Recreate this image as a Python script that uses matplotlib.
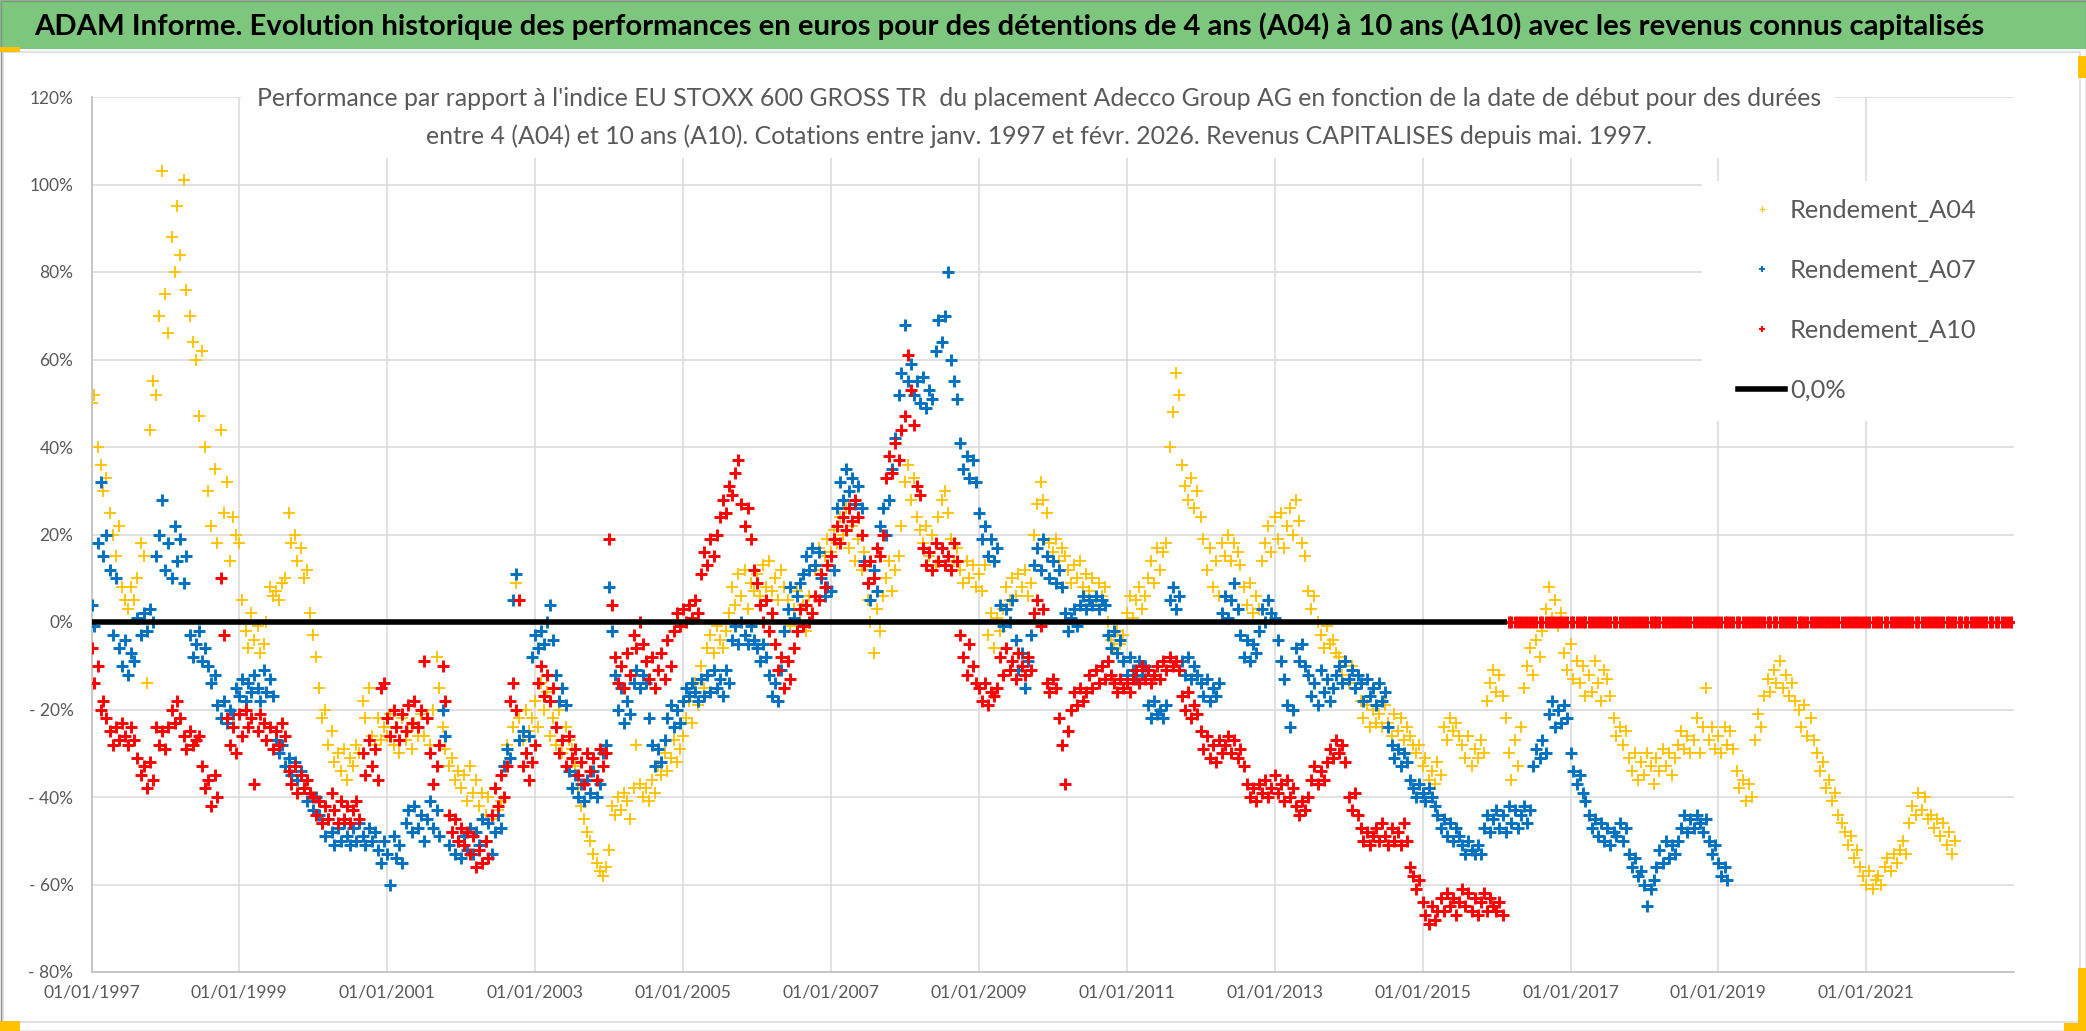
import matplotlib
matplotlib.use('Agg')
import matplotlib.pyplot as plt
import matplotlib.dates as mdates
from matplotlib.patches import Rectangle
from matplotlib.lines import Line2D
import pandas as pd

plt.rcParams['font.family'] = ['Lato', 'DejaVu Sans']

W, H = 2086, 1031

title = ("ADAM Informe. Evolution historique des performances en euros pour des détentions "
         "de 4 ans (A04) à 10 ans (A10) avec les revenus connus capitalisés")
subtitle_1 = ("Performance par rapport à l'indice EU STOXX 600 GROSS TR  du placement Adecco Group AG "
              "en fonction de la date de début pour des durées")
subtitle_2 = ("entre 4 (A04) et 10 ans (A10). Cotations entre janv. 1997 et févr. 2026. "
              "Revenus CAPITALISES depuis mai. 1997.")
labels = ['Rendement_A04', 'Rendement_A07', 'Rendement_A10', '0,0%']

# performance (%) by start date, twice a month (1st and 15th) from 01/1997
a04 = [
    50, 52, 40, 36, 30, 33, 25, 20, 15, 22, 8, 5, 3, 8, 5, 10, 18, 15, -14, 44, 55, 52, 70, 103,   # 1997
    75, 66, 88, 80, 95, 84, 101, 76, 70, 64, 60, 47, 62, 40, 30, 22, 35, 18, 44, 25, 32, 14, 24, 20,  # 1998
    18, 5, -2, -6, 2, -4, -1, -7, -5, 0, 8, 6, 7, 5, 9, 10, 25, 18, 20, 14, 17, 10, 12, 2,
    -3, -8, -15, -22, -20, -28, -25, -32, -30, -34, -29, -36, -31, -33, -28, -30, -18, -22, -15, -26, -28, -22, -27, -24,
    -26, -21, -28, -24, -30, -22, -27, -25, -29, -23, -26, -21, -26, -22, -28, -20, -8, -15, -24, -29, -33, -31, -36, -34,
    -38, -35, -41, -33, -39, -36, -42, -39, -44, -40, -45, -38, -43, -41, -33, -28, -31, -24, 9, -22, -27, -20, -25, -22,
    -18, -24, -14, -20, -16, -26, -22, -28, -20, -30, -24, -27, -29, -33, -38, -42, -45, -48, -50, -53, -55, -57, -58, -56,
    -52, -42, -44, -40, -43, -39, -41, -45, -38, -28, -37, -40, -38, -41, -36, -39, -33, -35, -30, -34, -31, -27, -32, -29,
    -26, -22, -18, -23, -14, -19, -10, -15, -6, -3, -7, -1, -4, -6, -2, 2, 8, 4, 11, 6, 12, 3, 9, 7,
    11, 6, 13, 8, 14, 7, 10, 5, 12, 8, 5, -1, 3, 7, 0, 4, -2, 6, 2, 12, 17, 11, 15, 19,
    16, 21, 18, 24, 20, 26, 17, 22, 14, 19, 12, 16, 5, 0, -7, 3, -2, 6, 10, 14, 7, 12, 15, 22,
    32, 36, 28, 33, 24, 21, 18, 22, 15, 20, 13, 24, 28, 30, 25, 19, 14, 17, 12, 9, 14, 10, 13, 8,
    11, 7, 13, -3, 2, -6, 1, -2, 3, 8, 5, 10, 6, 11, 8, 12, 6, 9, 20, 27, 32, 28, 25, 18,
    16, 19, 14, 17, 15, 12, 9, 13, 10, 14, 8, 11, 7, 10, 5, 9, 6, 8, 0, -4, -6, -2, -5, -3,
    2, 6, 1, 5, 8, 3, 6, 10, 14, 9, 17, 12, 16, 18, 40, 48, 57, 52, 36, 31, 28, 33, 26, 30,
    24, 19, 12, 17, 8, 14, 6, 18, 15, 20, 14, 18, 16, 13, 8, 4, 9, 2, 6, 3, 14, 18, 22, 16,
    24, 19, 25, 17, 22, 26, 20, 28, 23, 18, 15, 7, 3, 6, 0, -3, -6, -1, -5, -4, -7, -8, -12, -9,
    -14, -10, -15, -12, -18, -22, -19, -24, -20, -23, -21, -24, -19, -23, -26, -21, -25, -22, -27, -24, -26, -28, -30, -28,
    -33, -31, -36, -34, -37, -32, -35, -24, -27, -22, -25, -23, -26, -28, -31, -26, -33, -29, -31, -27, -30, -18, -14, -11,
    -16, -12, -17, -22, -30, -36, -27, -33, -24, -15, -10, -6, -12, -4, -8, -2, 3, 8, 1, 5, -1, 2, -7, -11,
    -5, -13, -9, -14, -10, -17, -12, -16, -9, -14, -18, -11, -13, -17, -22, -26, -24, -28, -25, -31, -34, -30, -36, -32,
    -35, -30, -33, -37, -31, -34, -29, -33, -30, -35, -31, -28, -25, -29, -26, -30, -27, -22, -30, -24, -15, -27, -24, -29,
    -26, -30, -24, -28, -25, -29, -34, -38, -36, -41, -37, -40, -27, -21, -24, -17, -13, -16, -11, -14, -9, -15, -12, -17,
    -14, -18, -20, -24, -19, -26, -22, -27, -30, -34, -32, -38, -36, -41, -39, -44, -46, -48, -51, -49, -54, -52, -56, -58,
    -60, -57, -61, -59, -58, -60, -56, -54, -57, -53, -55, -52, -50, -53, -46, -42, -44, -39, -43, -40, -45, -44, -47, -45,
    -49, -46, -51, -48, -53, -50,  # 2022
]

a07 = [
    4, -1, 18, 32, 15, 20, 12, -3, 10, -6, -10, -4, -12, -7, -9, 1, -3, 2, -2, 3, 0, 15, 20, 28,   # 1997
    12, 18, 10, 22, 14, 19, 9, 15, -3, -8, -5, -2, -9, -6, -10, -14, -12, -19, -22, -18, -23, -20, -21, -15,
    -17, -13, -18, -14, -16, -12, -15, -18, -11, -16, -13, -17, -27, -30, -28, -33, -31, -35, -32, -36, -34, -38, -41, -39,
    -43, -40, -44, -46, -49, -45, -48, -51, -47, -50, -46, -49, -51, -47, -50, -46, -49, -51, -47, -50, -48, -52, -55, -50,
    -53, -60, -49, -54, -51, -55, -46, -43, -48, -42, -47, -44, -50, -45, -41, -47, -43, -49, -20, -26, -51, -48, -53, -50,
    -54, -49, -52, -47, -53, -48, -51, -45, -50, -46, -53, -48, -44, -47, -33, -29, -31, 5, 11, -27, -25, -30, -26, -8,
    -3, -6, -2, -5, 0, 4, -4, -12, -18, -15, -19, -34, -38, -35, -40, -37, -41, -36, -39, -34, -40, -37, -30, -28,
    8, -2, -12, -20, -15, -23, -18, -21, -14, -11, -15, -12, -14, -22, -28, -33, -29, -32, -27, -22, -19, -24, -20, -23,
    -18, -15, -17, -14, -16, -18, -13, -17, -12, -16, -11, -15, -13, -17, -11, -14, -4, -1, -5, 0, -3, -5, -1, -4,
    -6, -9, -5, -8, -12, -17, -14, -18, -11, -2, 3, 8, 1, 6, 9, 11, 15, 12, 17, 13, 16, 10, 6, 8,
    7, 12, 26, 32, 28, 35, 30, 33, 27, 31, 26, 14, 9, 5, 12, 7, 22, 26, 20, 28, 35, 42, 52, 57,
    68, 55, 59, 52, 55, 50, 56, 49, 53, 51, 62, 69, 64, 70, 80, 60, 55, 51, 41, 35, 38, 33, 37, 32,
    25, 19, 22, 15, 19, 14, 17, 4, -1, 3, 0, 5, -4, -11, -7, -15, -9, -3, 13, 17, 12, 19, 15, 10,
    14, 9, 12, 8, 2, -2, 1, 3, -1, 4, 6, 3, 5, 4, 6, 3, 5, 4, -3, -6, -2, -7, -4, -9,
    -12, -8, -11, -13, -9, -12, -10, -19, -22, -18, -21, -20, -22, -19, 5, 8, 3, 6, -9, -12, -8, -13, -10, -12,
    -14, -17, -13, -18, -15, -17, -14, 2, 6, 1, 5, 9, 3, -3, -8, -4, -9, -5, -7, -2, 3, 0, 5, 2,
    1, -4, -9, -13, -19, -24, -20, -6, -9, -5, -10, -12, -17, -14, -19, -11, -16, -13, -18, -15, -12, -10, -14, -9,
    -13, -11, -15, -12, -14, -18, -13, -17, -15, -19, -14, -18, -16, -24, -28, -31, -29, -33, -30, -32, -36, -38, -40, -37,
    -39, -41, -38, -40, -42, -44, -47, -45, -49, -46, -50, -47, -49, -51, -53, -50, -52, -53, -51, -53, -47, -44, -48, -45,
    -43, -47, -44, -48, -42, -46, -43, -47, -44, -42, -46, -43, -33, -29, -31, -27, -30, -21, -18, -24, -20, -23, -19, -22,
    -30, -34, -37, -35, -39, -41, -44, -47, -45, -49, -46, -50, -47, -51, -48, -49, -46, -50, -47, -53, -56, -54, -58, -57,
    -60, -65, -61, -59, -56, -52, -55, -50, -54, -51, -53, -50, -47, -44, -48, -45, -47, -44, -46, -48, -45, -50, -53, -51,
    -55, -58, -56, -59,  # 2019
]

a10 = [
    -6, -14, -10, -20, -18, -22, -25, -28, -24, -27, -23, -26, -28, -24, -27, -31, -35, -33, -38, -32, -36, -24, -28, -25,  # 1997
    -29, -24, -20, -23, -18, -22, -26, -29, -25, -28, -27, -26, -33, -38, -36, -42, -35, -40, 10, -3, -22, -28, -24, -30,
    -21, -26, -20, -24, -22, -37, -25, -21, -23, -27, -24, -29, -25, -28, -23, -26, -34, -37, -33, -39, -35, -38, -36, -39,
    -40, -44, -41, -46, -42, -45, -39, -43, -46, -41, -45, -42, -46, -43, -41, -45, -30, -35, -27, -33, -29, -36, -15, -14,
    -22, -26, -20, -24, -27, -21, -25, -19, -23, -18, -24, -20, -9, -22, -30, -37, -33, -28, -10, -18, -44, -48, -45, -50,
    -47, -51, -48, -53, -49, -56, -52, -55, -50, -54, -44, -38, -42, -35, -40, -33, -18, -14, -20, 5, -33, -30, -36, -32,
    -28, -14, -10, -17, -12, -18, -15, -24, -30, -27, -33, -26, -31, -29, -35, -32, -37, -30, -34, -31, -36, -29, -33, -30,
    19, 4, -8, -14, -10, -15, -7, -12, -3, -6, 0, -5, -9, -13, -8, -15, -11, -7, -13, -4, -10, -2, 2, -1,
    3, 0, 4, 1, 5, 2, 11, 16, 13, 19, 15, 20, 24, 28, 25, 31, 29, 34, 37, 27, 22, 26, 19, 12,
    9, 4, 0, 5, -2, 2, -5, -11, -8, -15, -9, -13, -6, -2, 3, -1, 4, 0, 2, 6, 5, 11, 8, 13,
    15, 19, 22, 18, 24, 21, 26, 23, 28, 24, 20, 13, 9, 14, 10, 17, 15, 20, 33, 38, 34, 41, 37, 44,
    47, 61, 53, 45, 31, 29, 17, 13, 16, 12, 18, 14, 17, 13, 15, 12, 18, 14, -3, -8, -12, -5, -10, -14,
    -15, -18, -14, -19, -16, -17, -15, -8, -12, -6, -11, -9, -13, -7, -10, -12, -8, -11, 2, 5, -1, 3, -14, -16,
    -13, -15, -22, -28, -37, -25, -20, -16, -19, -15, -18, -16, -12, -15, -11, -14, -10, -13, -9, -12, -14, -16, -13, -15,
    -14, -16, -13, -11, -14, -10, -13, -11, -14, -12, -10, -13, -9, -11, -8, -10, -9, -11, -17, -20, -16, -22, -19, -21,
    -25, -29, -26, -31, -28, -32, -27, -30, -28, -26, -30, -27, -31, -29, -33, -37, -40, -38, -41, -37, -39, -36, -40, -38,
    -35, -39, -37, -41, -36, -40, -38, -42, -44, -41, -43, -40, -36, -33, -37, -34, -36, -32, -29, -31, -27, -30, -28, -32,
    -40, -43, -39, -44, -47, -50, -48, -51, -49, -47, -50, -46, -49, -51, -47, -50, -48, -51, -46, -50, -56, -58, -61, -59,
    -64, -67, -69, -65, -68, -66, -63, -66, -62, -65, -63, -67, -64, -61, -65, -62, -66, -63, -67, -64, -62, -66, -63, -65,
    -66, -64, -67,  # 2016
]
# start dates after 02/2016 have no 10-year result: plotted at 0
a10_zero_from, a10_zero_to = '2016-03-01', '2022-12-15'

zero_line_dates = ['1997-01-01', '2016-02-20']
zero_line_values = [0, 0]

c04, c07, c10 = '#FFC000', '#0070C0', '#FF0000'
grey_txt = '#595959'

d04 = pd.date_range('1997-01-01', periods=len(a04), freq='SMS')
d07 = pd.date_range('1997-01-01', periods=len(a07), freq='SMS')
d10 = pd.date_range('1997-01-01', periods=len(a10), freq='SMS')
d10z = pd.date_range(a10_zero_from, a10_zero_to, freq='SMS')
a10_all = list(a10) + [0] * len(d10z)
d10_all = d10.append(d10z)

fig = plt.figure(figsize=(W / 100, H / 100), dpi=100)
renderer = fig.canvas.get_renderer()


def fx(x):
    return x / W


def fy(y):
    return 1 - y / H


def box(x0, y0, x1, y1, **kw):
    r = Rectangle((fx(x0), fy(y1)), (x1 - x0) / W, (y1 - y0) / H,
                  transform=fig.transFigure, **kw)
    fig.add_artist(r)
    return r


def fit_size(text, width_px, weight='normal'):
    t = fig.text(0, 0, text, fontsize=20, fontweight=weight)
    w = t.get_window_extent(renderer=renderer).width
    t.remove()
    return 20 * width_px / w


ax = fig.add_axes([fx(91.5), fy(972), (2014 - 91.5) / W, (972 - 97) / H])
ax.plot(d04, a04, ls='none', marker='+', ms=8.5, mew=1.3, color=c04, zorder=2)
ax.plot(d07, a07, ls='none', marker='+', ms=8, mew=2.1, color=c07, zorder=3)
ax.plot(d10_all, a10_all, ls='none', marker='+', ms=8, mew=2.1, color=c10, zorder=4)
ax.plot(pd.to_datetime(zero_line_dates), zero_line_values, color='black', lw=4,
        solid_capstyle='butt', zorder=5)

ax.set_ylim(-80, 120)
yt = list(range(-80, 121, 20))
ax.set_yticks(yt)
ax.set_yticklabels([f'{v}%' if v >= 0 else f'- {-v}%' for v in yt])
ax.set_xlim(pd.Timestamp('1997-01-01'), pd.Timestamp('2022-12-31'))
ax.set_xticks([pd.Timestamp(f'{y}-01-01') for y in range(1997, 2022, 2)])
ax.xaxis.set_major_formatter(mdates.DateFormatter('%d/%m/%Y'))

ax.grid(True, color='#D9D9D9', lw=1.1)
ax.set_axisbelow(True)
for s in ['top', 'right']:
    ax.spines[s].set_visible(False)
for s in ['left', 'bottom']:
    ax.spines[s].set_color('#BFBFBF')
    ax.spines[s].set_linewidth(1.2)

fs_y = fit_size('120%', 44)
fs_x = fit_size('01/01/1997', 97)
ax.tick_params(axis='y', length=0, labelsize=fs_y, labelcolor=grey_txt, pad=13)
ax.tick_params(axis='x', length=0, labelsize=fs_x, labelcolor=grey_txt, pad=9)

# frame, title band and covers
box(0, 0, W, 49, fc='#7DC67E', ec='none', zorder=1)
box(3, 52, 2080, 1022, fc='none', ec='#D9D9D9', lw=1.1, zorder=1)
box(242, 58, 1835, 158, fc='white', ec='none', zorder=1)
box(1702, 181, 2030, 421, fc='white', ec='none', zorder=1)
box(0.5, 0.5, W - 0.5, H - 0.5, fc='none', ec='#8C8C8C', lw=1, zorder=6)
for x0, y0, x1, y1 in [(0, 47, 20, 52), (0, 1021, 20, 1031), (2078, 56, 2086, 78),
                       (2078, 968, 2086, 1031), (2064, 1023, 2086, 1031)]:
    box(x0, y0, x1, y1, fc='#FFC000', ec='none', zorder=7)

fs_t = fit_size(title, 1953, 'bold')
fig.text(fx(1009.5), fy(26), title, fontsize=fs_t, fontweight='bold', color='black',
         ha='center', va='center', zorder=3)

fs_s = fit_size(subtitle_2, 1228)
fig.text(fx(1039), fy(99), subtitle_1, fontsize=fs_s, color=grey_txt, ha='center', va='center', zorder=3)
fig.text(fx(1039), fy(136), subtitle_2, fontsize=fs_s, color=grey_txt, ha='center', va='center', zorder=3)

# legend
fs_l = fit_size(labels[0], 187)
fs_px = fs_l * 100 / 72
probe = fig.text(0, 0, labels[0], fontsize=fs_l)
th = probe.get_window_extent(renderer=renderer).height
probe.remove()
handles = [
    Line2D([], [], ls='none', marker='+', ms=5, mew=0.9, color=c04),
    Line2D([], [], ls='none', marker='+', ms=5, mew=1.4, color=c07),
    Line2D([], [], ls='none', marker='+', ms=5, mew=1.4, color=c10),
    Line2D([], [], color='black', lw=4),
]
fig.legend(handles, labels, loc='upper left', bbox_to_anchor=(fx(1738), fy(210 - th / 2)),
           bbox_transform=fig.transFigure, frameon=False, fontsize=fs_l,
           handlelength=47 / fs_px, handletextpad=5 / fs_px, labelspacing=(60 - th) / fs_px,
           borderpad=0, borderaxespad=0, labelcolor=grey_txt)

fig.savefig('out.png', dpi=100)
